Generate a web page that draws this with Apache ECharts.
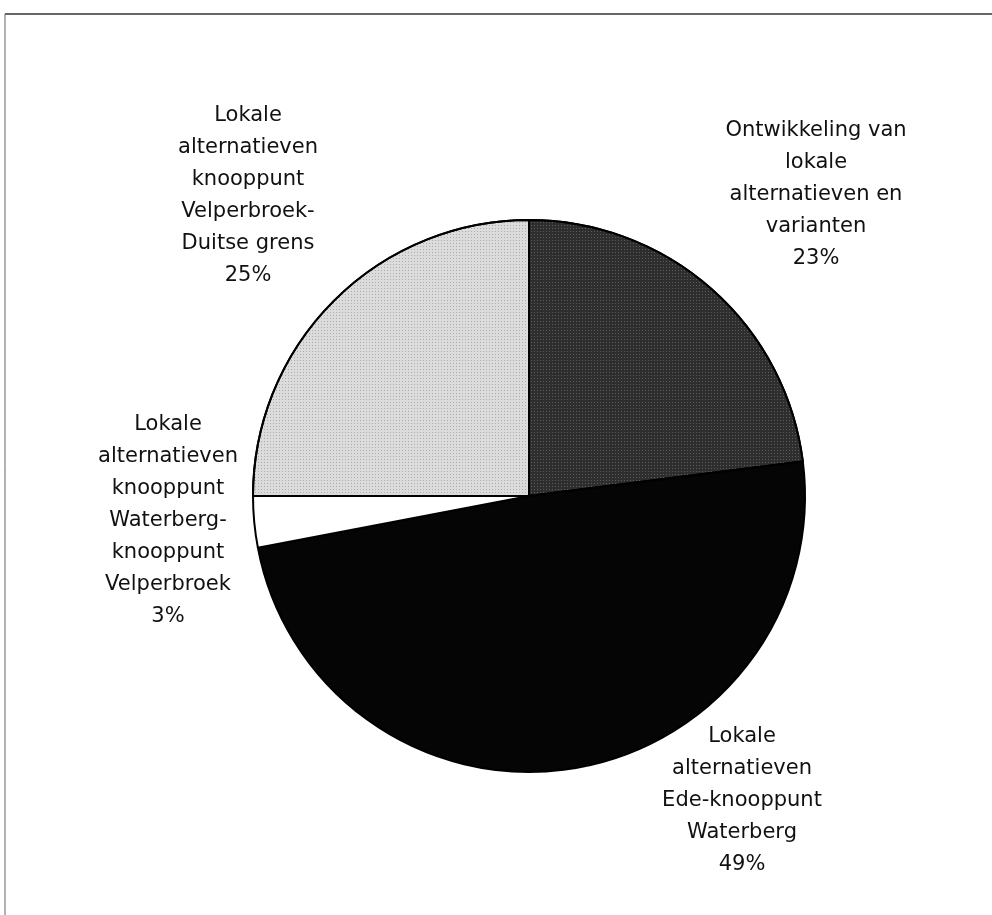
<!DOCTYPE html>
<html>
<head>
<meta charset="utf-8">
<script src="https://cdn.jsdelivr.net/npm/echarts@6/dist/echarts.min.js"></script>
<style>
  html, body { margin: 0; padding: 0; background: #fff; }
  #chart { width: 992px; height: 915px; }
</style>
</head>
<body>
<div id="chart"></div>
<script>
// Cost split of the local alternatives studies (percent)
const categories = [
  'Ontwikkeling van\nlokale\nalternatieven en\nvarianten',
  'Lokale\nalternatieven\nEde-knooppunt\nWaterberg',
  'Lokale\nalternatieven\nknooppunt\nWaterberg-\nknooppunt\nVelperbroek',
  'Lokale\nalternatieven\nknooppunt\nVelperbroek-\nDuitse grens'
];
const shares = [23, 49, 3, 25];

// Slice fills, dot textures and label anchor points (styling / layout only)
const sliceColors = ['#2e2e2e', '#050505', '#ffffff', '#dcdcdc'];
const sliceDecals = [
  { symbol: 'rect', symbolSize: 1, color: 'rgba(255,255,255,0.22)', dashArrayX: [1, 2], dashArrayY: [1, 2] },
  null,
  null,
  { symbol: 'rect', symbolSize: 1, color: 'rgba(0,0,0,0.22)', dashArrayX: [1, 2], dashArrayY: [1, 2] }
];
const labelAnchors = [[816, 195], [742, 801], [168, 521], [248, 196]];

const chart = echarts.init(document.getElementById('chart'), null, { renderer: 'canvas' });

chart.setOption({
  backgroundColor: '#ffffff',
  animation: false,
  graphic: [
    { type: 'line', shape: { x1: 5, y1: 14, x2: 992, y2: 14 }, style: { stroke: '#333', lineWidth: 1.5 } },
    { type: 'line', shape: { x1: 5, y1: 14, x2: 5, y2: 915 }, style: { stroke: '#666', lineWidth: 1 } }
  ],
  series: [{
    type: 'pie',
    center: [529, 496],
    radius: 276,
    startAngle: 90,
    clockwise: true,
    avoidLabelOverlap: false,
    data: categories.map((name, i) => {
      const style = { color: sliceColors[i] };
      if (sliceDecals[i]) style.decal = sliceDecals[i];
      return { name: name, value: shares[i], itemStyle: style };
    }),
    itemStyle: { borderColor: '#000', borderWidth: 2 },
    label: {
      show: true,
      position: 'outside',
      formatter: p => p.name + '\n' + p.value + '%',
      fontFamily: 'DejaVu Sans',
      fontSize: 21,
      lineHeight: 32,
      color: '#111',
      align: 'center'
    },
    labelLine: { show: false },
    labelLayout: params => ({
      x: labelAnchors[params.dataIndex][0],
      y: labelAnchors[params.dataIndex][1],
      align: 'center',
      verticalAlign: 'middle'
    }),
    emphasis: { disabled: true }
  }]
});
</script>
</body>
</html>
